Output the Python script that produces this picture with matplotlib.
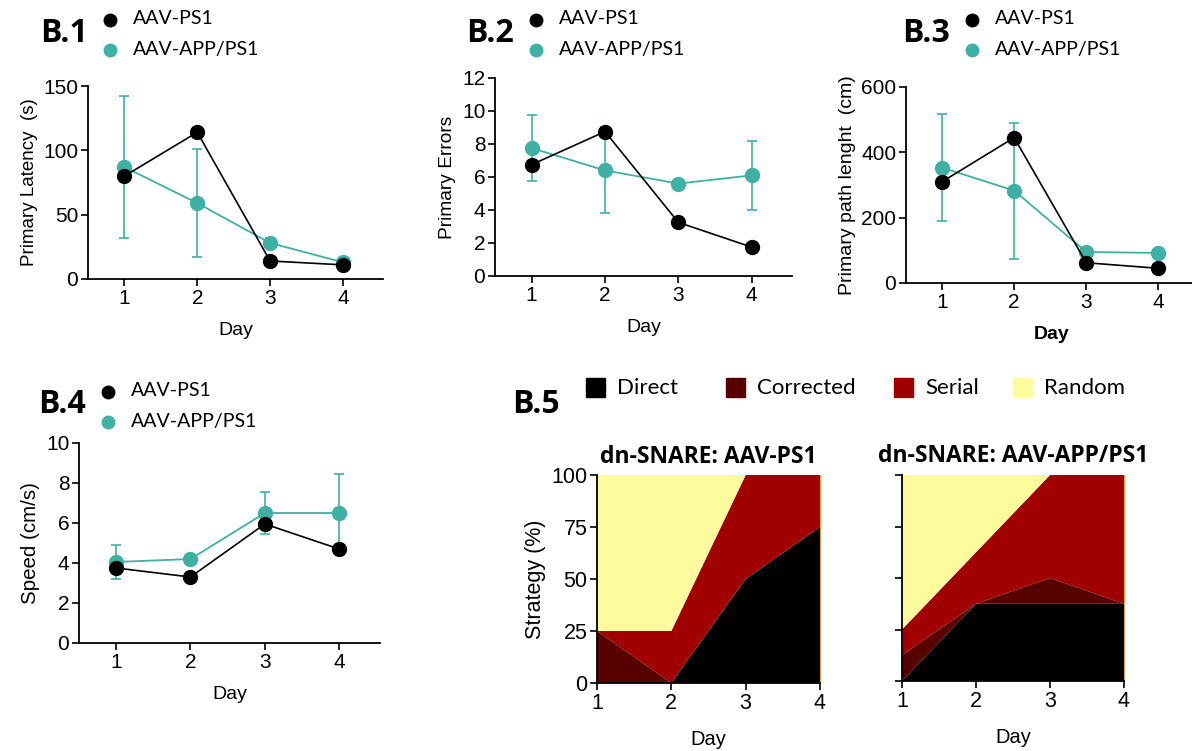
import numpy as np
import matplotlib.pyplot as plt

W, H = 1192, 751

days = [1, 2, 3, 4]
TEAL = "#3fb0a4"
LEG = "Lato"
NUM = "Liberation Sans"
plt.rcParams["font.family"] = [NUM, "DejaVu Sans"]

# B.1 primary latency (s)
lat_ps1 = [80, 114, 14, 11]
lat_app = [87, 59, 28, 13]
lat_app_err = [55, 42, 4, 1]

# B.2 primary errors
err_ps1 = [6.75, 8.75, 3.25, 1.75]
err_app = [7.75, 6.4, 5.6, 6.1]
err_app_err = [2.0, 2.6, 0.1, 2.1]

# B.3 primary path length (cm)
path_ps1 = [310, 445, 62, 45]
path_app = [353, 283, 95, 92]
path_app_err = [163, 208, 5, 5]

# B.4 speed (cm/s)
spd_ps1 = [3.75, 3.3, 5.95, 4.7]
spd_app = [4.05, 4.2, 6.5, 6.5]
spd_app_err = [0.85, 0.05, 1.07, 1.95]

# B.5 search strategies (%)
strategies = ["Direct", "Corrected", "Serial", "Random"]
strat_colors = ["#000000", "#560000", "#a00000", "#fdfb9b"]
ps1_strat = [[0, 0, 50, 75], [25, 0, 0, 0], [0, 25, 50, 25], [75, 75, 0, 0]]
app_strat = [[0, 37.5, 37.5, 37.5], [12.5, 0, 12.5, 0], [12.5, 25, 50, 62.5], [75, 37.5, 0, 0]]

fig = plt.figure(figsize=(W / 100, H / 100), dpi=100)


def box(x0, y0, x1, y1):
    # pixel box (top-left origin) -> figure fraction rect
    return [x0 / W, 1 - y1 / H, (x1 - x0) / W, (y1 - y0) / H]


def line_panel(rect, ps1, app, app_err, ymax, yticks, ylabel, ylsize, tag, tagxy, bold_day=False):
    ax = fig.add_axes(rect)
    ax.errorbar(days, app, yerr=app_err, color=TEAL, lw=1.3, marker="o", ms=10,
                capsize=3.5, elinewidth=1.2, capthick=1.2, zorder=2)
    ax.plot(days, ps1, color="black", lw=1.2, marker="o", ms=10, zorder=3)
    ax.set_xlim(0.5, 4.55)
    ax.set_ylim(0, ymax)
    ax.set_yticks(yticks)
    ax.set_xticks(days)
    for s in ["top", "right"]:
        ax.spines[s].set_visible(False)
    for s in ["left", "bottom"]:
        ax.spines[s].set_linewidth(1.3)
    ax.tick_params(length=5, width=1.2, labelsize=15, pad=2)
    ax.set_ylabel(ylabel, fontsize=ylsize, labelpad=4)
    ax.set_xlabel("Day", fontsize=14, labelpad=10,
                  fontweight="bold" if bold_day else "normal")
    tx, ty = tagxy
    fig.text(tx / W, 1 - ty / H, tag, fontsize=23, fontweight="bold", family="Open Sans",
             va="center", ha="left")
    mx = tx + 70
    fig.lines.append(plt.Line2D([mx / W], [1 - (ty - 13) / H], marker="o", ms=9,
                                color="black", transform=fig.transFigure))
    fig.lines.append(plt.Line2D([mx / W], [1 - (ty + 17) / H], marker="o", ms=9,
                                color=TEAL, transform=fig.transFigure))
    fig.text((mx + 23) / W, 1 - (ty - 14) / H, "AAV-PS1", fontsize=14, family=LEG, va="center")
    fig.text((mx + 23) / W, 1 - (ty + 16) / H, "AAV-APP/PS1", fontsize=14, family=LEG, va="center")
    return ax


line_panel(box(88, 86, 383, 279), lat_ps1, lat_app, lat_app_err, 150, [0, 50, 100, 150],
           "Primary Latency  (s)", 13.5, "B.1", (40, 33))
line_panel(box(495, 78, 792, 276), err_ps1, err_app, err_app_err, 12, range(0, 13, 2),
           "Primary Errors", 13.8, "B.2", (466, 33))
line_panel(box(906, 87, 1198, 283), path_ps1, path_app, path_app_err, 600, [0, 200, 400, 600],
           "Primary path lenght  (cm)", 14, "B.3", (902, 33), bold_day=True)
line_panel(box(79, 443, 380, 643), spd_ps1, spd_app, spd_app_err, 10, range(0, 11, 2),
           "Speed (cm/s)", 14.8, "B.4", (38, 405))


def strat_panel(rect, data, title, show_labels):
    ax = fig.add_axes(rect)
    ax.stackplot(days, *data, colors=strat_colors, lw=0)
    ax.set_xlim(1, 4)
    ax.set_ylim(0, 100)
    ax.set_xticks(days)
    ax.set_yticks([0, 25, 50, 75, 100])
    ax.spines["top"].set_visible(False)
    ax.spines["right"].set_color("#d9a050")
    ax.spines["right"].set_linewidth(0.8)
    ax.spines["left"].set_linewidth(1.3)
    ax.spines["bottom"].set_linewidth(1.3)
    ax.tick_params(length=5, width=1.2, labelsize=15.5, pad=2)
    if show_labels:
        ax.set_ylabel("Strategy (%)", fontsize=15.5, labelpad=4)
    else:
        ax.set_yticklabels([])
    ax.set_xlabel("Day", fontsize=14.5, labelpad=12)
    ax.set_title(title, fontsize=16.5, fontweight="bold", family="Open Sans", pad=9)
    return ax


strat_panel(box(597, 475, 820, 683), ps1_strat, "dn-SNARE: AAV-PS1", True)
strat_panel(box(902, 475, 1124, 681), app_strat, "dn-SNARE: AAV-APP/PS1", False)

fig.text(512 / W, 1 - 405 / H, "B.5", fontsize=23, fontweight="bold", family="Open Sans",
         va="center", ha="left")
leg_x = [586, 726, 894, 1013]
for x, name, c in zip(leg_x, strategies, strat_colors):
    fig.patches.append(plt.Rectangle((x / W, 1 - 397 / H), 19 / W, 19 / H, color=c,
                                     transform=fig.transFigure))
    fig.text((x + 31) / W, 1 - 388 / H, name, fontsize=16, family=LEG, va="center")

fig.savefig("out.png", dpi=100)
